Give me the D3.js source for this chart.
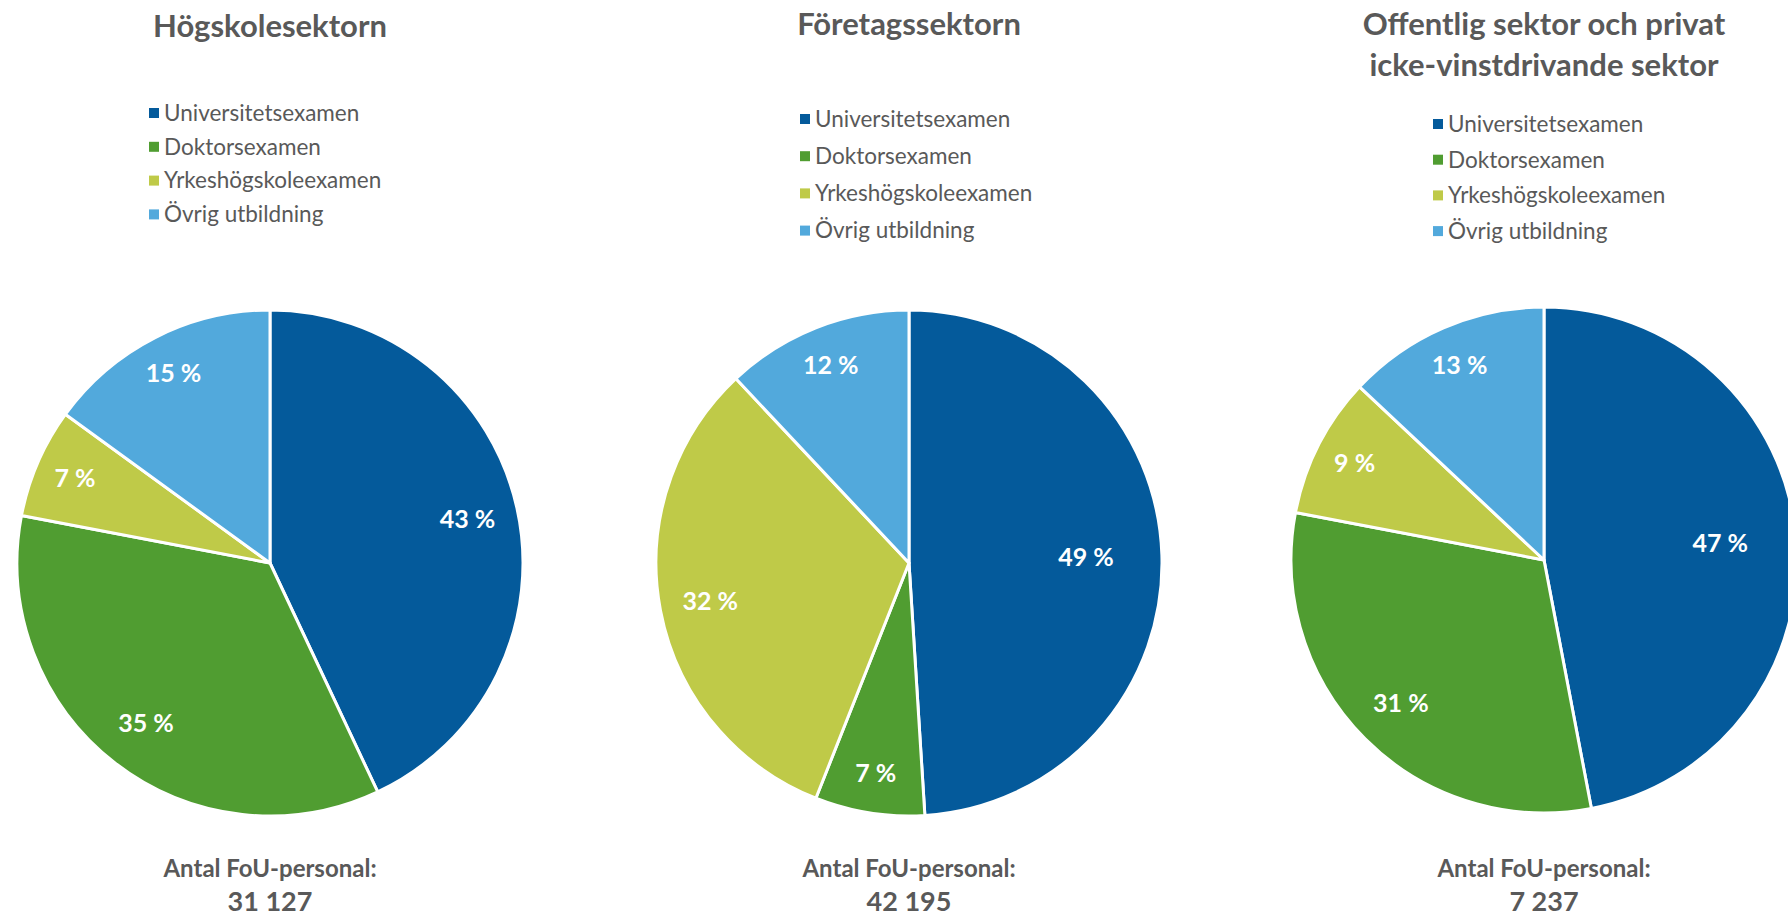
<!DOCTYPE html>
<html>
<head>
<meta charset="utf-8">
<script src="https://cdn.jsdelivr.net/npm/d3@7"></script>
<style>
  html, body { margin: 0; padding: 0; background: #fff; }
  svg { display: block; font-family: "Source Sans Pro", Lato, sans-serif; }
</style>
</head>
<body>
<div id="chart"></div>
<script>
// categories shared by all three pies
const categories = ["Universitetsexamen", "Doktorsexamen", "Yrkeshögskoleexamen", "Övrig utbildning"];
const colors = ["#045a9b", "#509d31", "#bfca48", "#52a9dc"];

// share of R&D personnel (%) per sector
const hogskoleValues = [43, 35, 7, 15];
const foretagValues = [49, 7, 32, 12];
const offentligValues = [47, 31, 9, 13];

const titles = [
  ["Högskolesektorn"],
  ["Företagssektorn"],
  ["Offentlig sektor och privat", "icke-vinstdrivande sektor"]
];
const personnel = [31127, 42195, 7237];

const width = 1788, height = 917;
const radius = 253;
const textColor = "#595959";

const sv = d3.formatLocale({ decimal: ",", thousands: "\u00a0", grouping: [3], currency: ["", " kr"] });
const fmt = sv.format(",d");

// layout of each panel (pie centre, title baseline, legend placement)
const panels = [
  { values: hogskoleValues, cx: 270, cy: 563, titleY: 37, legX: 149, legY: 113, legStep: 33.8 },
  { values: foretagValues, cx: 909, cy: 563, titleY: 35, legX: 800, legY: 119, legStep: 37.2 },
  { values: offentligValues, cx: 1544, cy: 560, titleY: 35, legX: 1433, legY: 124, legStep: 35.7 }
];

const svg = d3.select("#chart").append("svg")
  .attr("width", width)
  .attr("height", height);

const pie = d3.pie().sort(null).value(d => d);
const arc = d3.arc().innerRadius(0).outerRadius(radius);

panels.forEach((p, i) => {
  const g = svg.append("g");

  // Title
  const title = g.append("text")
    .attr("x", p.cx)
    .attr("y", p.titleY)
    .attr("text-anchor", "middle")
    .attr("font-size", 31)
    .attr("font-weight", "bold")
    .attr("fill", textColor);
  titles[i].forEach((line, j) => {
    title.append("tspan")
      .attr("x", p.cx)
      .attr("dy", j === 0 ? 0 : 41)
      .text(line);
  });

  // Legend
  const leg = g.append("g").attr("transform", `translate(${p.legX},${p.legY})`);
  const rows = leg.selectAll("g").data(categories).join("g")
    .attr("transform", (d, k) => `translate(0,${k * p.legStep})`);
  rows.append("rect")
    .attr("x", 0).attr("y", -5)
    .attr("width", 10).attr("height", 10)
    .attr("fill", (d, k) => colors[k]);
  rows.append("text")
    .attr("x", 15)
    .attr("dy", "0.35em")
    .attr("font-size", 22.5)
    .attr("fill", textColor)
    .text(d => d);

  // Pie
  const pg = g.append("g").attr("transform", `translate(${p.cx},${p.cy})`);
  const arcs = pie(p.values);
  pg.selectAll("path").data(arcs).join("path")
    .attr("d", arc)
    .attr("fill", (d, k) => colors[k])
    .attr("stroke", "#fff")
    .attr("stroke-width", 3)
    .attr("stroke-linejoin", "round");

  // Percentage labels, big slices sit a little further in
  pg.selectAll("text.pct").data(arcs).join("text")
    .attr("class", "pct")
    .attr("transform", d => {
      const f = d.value < 30 ? 0.84 : d.value < 45 ? 0.8 : 0.7;
      const a = (d.startAngle + d.endAngle) / 2;
      return `translate(${Math.sin(a) * radius * f},${-Math.cos(a) * radius * f})`;
    })
    .attr("text-anchor", "middle")
    .attr("dy", "0.35em")
    .attr("font-size", 25)
    .attr("font-weight", "bold")
    .attr("fill", "#fff")
    .text(d => `${d.value} %`);

  // Personnel count below
  g.append("text")
    .attr("x", p.cx)
    .attr("y", 877)
    .attr("text-anchor", "middle")
    .attr("font-size", 24)
    .attr("font-weight", "bold")
    .attr("fill", textColor)
    .text("Antal FoU-personal:");
  g.append("text")
    .attr("x", p.cx)
    .attr("y", 911)
    .attr("text-anchor", "middle")
    .attr("font-size", 27)
    .attr("font-weight", "bold")
    .attr("fill", textColor)
    .text(fmt(personnel[i]));
});
</script>
</body>
</html>
